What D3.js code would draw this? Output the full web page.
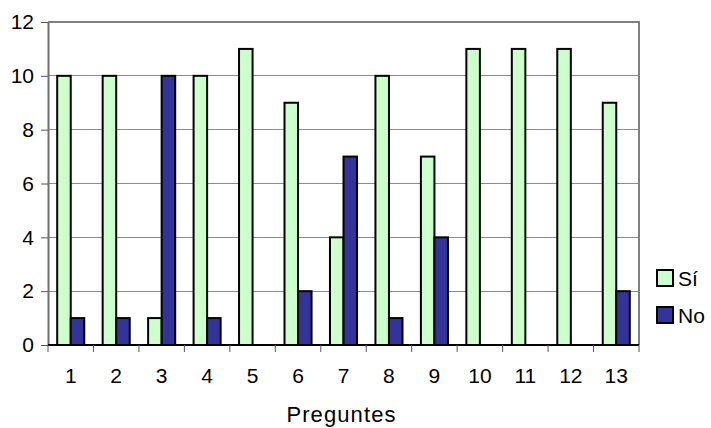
<!DOCTYPE html>
<html><head><meta charset="utf-8">
<script src="https://cdn.jsdelivr.net/npm/d3@7"></script>
<style>html,body{margin:0;padding:0;background:#fff;}svg{display:block;font-family:Arial,"Liberation Sans",sans-serif;}</style>
</head><body>
<svg id="c" width="711" height="428"></svg>
<script>
const categories = ["1","2","3","4","5","6","7","8","9","10","11","12","13"];
const seriesNames = ["Sí","No"];
const siValues = [10,10,1,10,11,9,4,10,7,11,11,11,9];
const noValues = [1,1,10,1,0,2,7,1,4,0,0,0,2];
const yTicks = [0,2,4,6,8,10,12];
const xTitle = "Preguntes";
const colors = {"Sí":"#CCFFCC","No":"#333399"};

const svg = d3.select("#c");
const L = 48, R = 639, T = 22, B = 345;
const x0 = d3.scaleBand().domain(categories).range([L, R]).padding(0);
const x1 = d3.scaleBand().domain(seriesNames).range([0, x0.bandwidth()]).paddingInner(0).paddingOuter(0.68);
const y = d3.scaleLinear().domain([0, 12]).range([B, T]);

// gridlines
svg.append("g").selectAll("line").data(yTicks.filter(d => d > 0 && d < 12)).join("line")
  .attr("x1", L).attr("x2", R).attr("y1", d => y(d)).attr("y2", d => y(d))
  .attr("stroke", "#8c8c8c").attr("stroke-width", 1).attr("shape-rendering", "crispEdges");
// plot border top/right
svg.append("path").attr("d", `M${L},${y(12)}H${R}V${B}`).attr("fill", "none")
  .attr("stroke", "#808080").attr("stroke-width", 2);

const data = categories.map((c, i) => ({cat: c, vals: [{s: "Sí", v: siValues[i]}, {s: "No", v: noValues[i]}]}));
const g = svg.append("g").selectAll("g").data(data).join("g")
  .attr("transform", d => `translate(${x0(d.cat)},0)`);
g.selectAll("rect").data(d => d.vals.filter(e => e.v > 0)).join("rect")
  .attr("x", d => x1(d.s)).attr("width", x1.bandwidth())
  .attr("y", d => y(d.v)).attr("height", d => B - y(d.v))
  .attr("fill", d => colors[d.s]).attr("stroke", "#000").attr("stroke-width", 2);

// y axis
const yAxis = d3.axisLeft(y).tickValues(yTicks).tickSize(7).tickPadding(7).tickSizeOuter(0);
const ya = svg.append("g").attr("transform", `translate(${L},0)`).call(yAxis);
ya.select(".domain").attr("stroke", "#707070").attr("stroke-width", 2);
ya.selectAll(".tick line").attr("stroke", "#555");
ya.selectAll("text").attr("font-size", 21).attr("fill", "#000").attr("font-family", "Arial, 'Liberation Sans', sans-serif");

// x axis
const xa = svg.append("g").attr("transform", `translate(0,${B})`);
xa.append("line").attr("x1", L).attr("x2", R).attr("y1", 0).attr("y2", 0).attr("stroke", "#000").attr("stroke-width", 2);
const bounds = categories.map(c => x0(c)).concat([R]);
xa.selectAll("line.tk").data(bounds).join("line").attr("class", "tk")
  .attr("x1", d => d).attr("x2", d => d).attr("y1", 0).attr("y2", 7).attr("stroke", "#555");
xa.selectAll("text").data(categories).join("text")
  .attr("x", d => x0(d) + x0.bandwidth() / 2).attr("y", 38)
  .attr("text-anchor", "middle").attr("font-size", 21).attr("fill", "#000").text(d => d);

svg.append("text").attr("x", (L + R) / 2 - 2).attr("y", 422).attr("text-anchor", "middle")
  .attr("font-size", 22).attr("letter-spacing", 1.1).attr("fill", "#000").text(xTitle);

// legend
const lg = svg.append("g").selectAll("g").data(seriesNames).join("g")
  .attr("transform", (d, i) => `translate(657,${270 + i * 37})`);
lg.append("rect").attr("width", 16).attr("height", 16)
  .attr("fill", d => colors[d]).attr("stroke", "#000").attr("stroke-width", 2);
lg.append("text").attr("x", 21).attr("y", 16).attr("font-size", 21).attr("fill", "#000").text(d => d);
</script>
</body></html>
